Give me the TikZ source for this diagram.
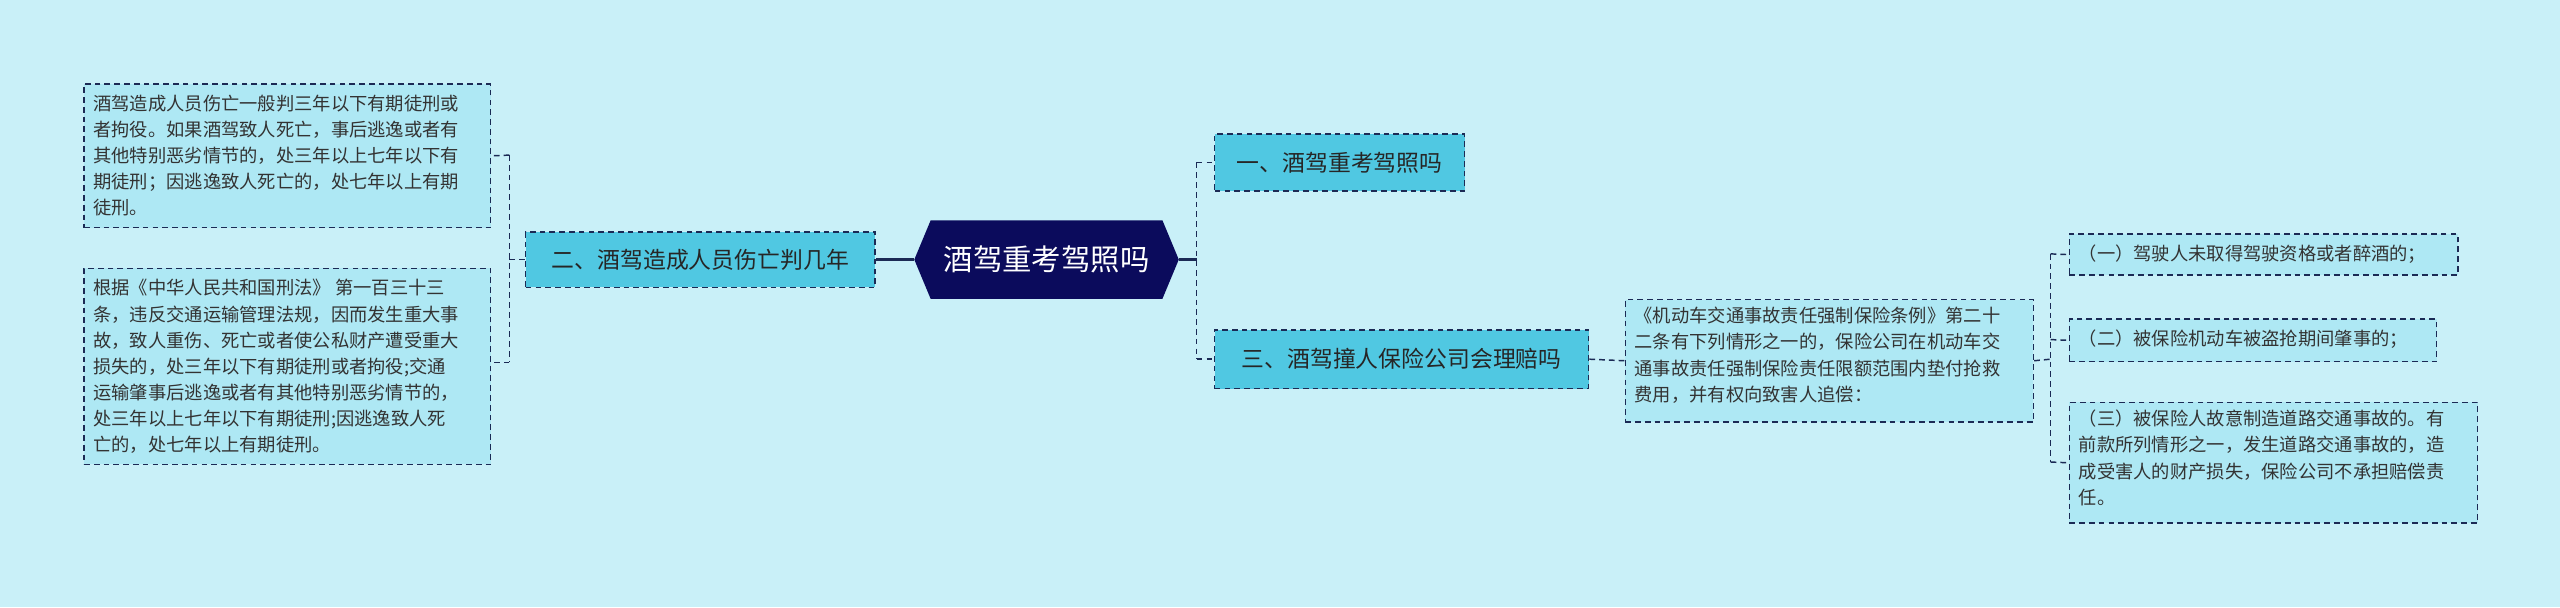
\documentclass[tikz,border=0pt]{standalone}
\usepackage{fontspec}
\setmainfont{Noto Sans CJK SC}
\definecolor{bg}{HTML}{C9F0F8}
\definecolor{boxf}{HTML}{AEE8F4}
\definecolor{midf}{HTML}{50C8E2}
\definecolor{edge}{HTML}{1B2A55}
\definecolor{rootf}{HTML}{0B0B5C}
\begin{document}
\begin{tikzpicture}[x=1pt,y=-1pt,
  leaf/.style={draw=edge,fill=boxf,dash pattern=on 3.5pt off 2.5pt,line width=0.9pt,anchor=north west,inner sep=0pt},
  mid/.style={draw=edge,fill=midf,dash pattern=on 3.5pt off 2.5pt,line width=0.9pt,inner sep=0pt,font=\fontsize{14}{16}\selectfont,text=black!85},
  txt/.style={align=left,font=\fontsize{11.2}{16}\selectfont,text=black!80,inner sep=0pt},
  conn/.style={draw=edge,dash pattern=on 3.5pt off 2.5pt,line width=0.9pt}]
\fill[bg] (0,0) rectangle (1568,372);
\useasboundingbox (0,0) rectangle (1568,372);
% root
\fill[rootf] (560,159)--(570,135)--(712,135)--(722,159)--(712,183)--(570,183)--cycle;
\node[text=white,font=\fontsize{18}{20}\selectfont] (root) at (641,159) {酒驾重考驾照吗};
\coordinate (rl) at (560,159); \coordinate (rr) at (722,159);
% mid nodes
\node[mid,minimum width=214,minimum height=34] (n2) at (429,159) {二、酒驾造成人员伤亡判几年};
\node[mid,minimum width=153,minimum height=35] (n1) at (820.5,99.5) {一、酒驾重考驾照吗};
\node[mid,minimum width=229,minimum height=36] (n3) at (858.5,220) {三、酒驾撞人保险公司会理赔吗};
% left leaves
\node[leaf,minimum width=249,minimum height=88] (l1) at (51,51) {};
\node[txt,anchor=north west] (t1) at (57,58) {酒驾造成人员伤亡一般判三年以下有期徒刑或\\者拘役。如果酒驾致人死亡，事后逃逸或者有\\其他特别恶劣情节的，处三年以上七年以下有\\期徒刑；因逃逸致人死亡的，处七年以上有期\\徒刑。};
\node[leaf,minimum width=249,minimum height=120] (l2) at (51,164) {};
\node[txt,anchor=north west] (t2) at (57,171) {根据《中华人民共和国刑法》 第一百三十三\\条，违反交通运输管理法规，因而发生重大事\\故，致人重伤、死亡或者使公私财产遭受重大\\损失的，处三年以下有期徒刑或者拘役;交通\\运输肇事后逃逸或者有其他特别恶劣情节的，\\处三年以上七年以下有期徒刑;因逃逸致人死\\亡的，处七年以上有期徒刑。};
% right leaves
\node[leaf,minimum width=250,minimum height=75] (R) at (995,183) {};
\node[txt,anchor=north west] (tR) at (1001,188) {《机动车交通事故责任强制保险条例》第二十\\二条有下列情形之一的，保险公司在机动车交\\通事故责任强制保险责任限额范围内垫付抢救\\费用，并有权向致害人追偿：};
\node[leaf,minimum width=238,minimum height=25] (r1) at (1267,143) {};
\node[txt,anchor=west] (tr1) at (1273,155.5) {（一）驾驶人未取得驾驶资格或者醉酒的；};
\node[leaf,minimum width=225,minimum height=26] (r2) at (1267,195) {};
\node[txt,anchor=west] (tr2) at (1273,208) {（二）被保险机动车被盗抢期间肇事的；};
\node[leaf,minimum width=250,minimum height=74] (r3) at (1267,246) {};
\node[txt,anchor=north west] (tr3) at (1273,251) {（三）被保险人故意制造道路交通事故的。有\\前款所列情形之一，发生道路交通事故的，造\\成受害人的财产损失，保险公司不承担赔偿责\\任。};
% connectors
\draw[edge,line width=1.4pt] (n2.east) -- (rl);
\draw[conn] (n2.west) -- (312,159);
\draw[conn] (312,95) -- (312,222);
\draw[conn] (312,95) -- (l1.east);
\draw[conn] (312,222) -- (300,222);
\draw[edge,line width=1.4pt] (rr) -- (733,159);
\draw[conn] (733,99.5) -- (733,220);
\draw[conn] (733,99.5) -- (n1.west);
\draw[conn] (733,220) -- (n3.west);
\draw[conn] (n3.east) -- (R.west);
\draw[conn] (R.east) -- (1256,220);
\draw[conn] (1256,155.5) -- (1256,283);
\draw[conn] (1256,155.5) -- (r1.west);
\draw[conn] (1256,208) -- (r2.west);
\draw[conn] (1256,283) -- (r3.west);
\end{tikzpicture}
\end{document}
